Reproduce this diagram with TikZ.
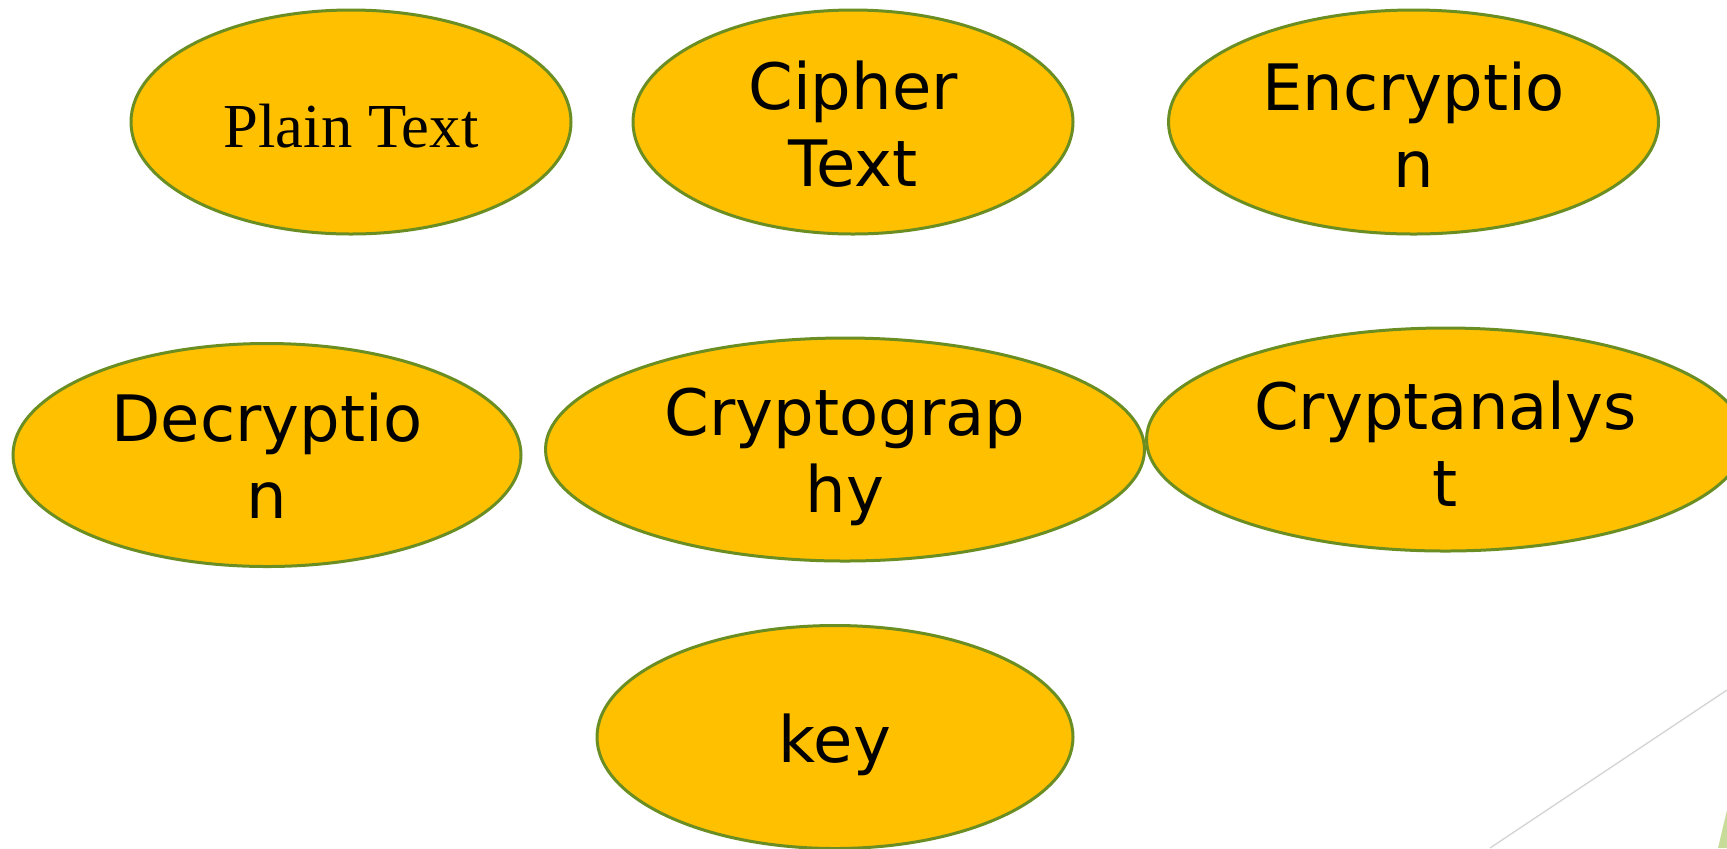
\documentclass[tikz,border=0pt]{standalone}
\usepackage{fontspec}
\setmainfont{DejaVu Sans}
\newfontfamily\serifface{Liberation Serif}
\usetikzlibrary{shapes.geometric}
\definecolor{bubblefill}{HTML}{FFC000}
\definecolor{bubbleline}{HTML}{6B8E23}
\definecolor{guide}{HTML}{D6D6D6}
\definecolor{leaf}{HTML}{C8DC9A}
\tikzset{
  bubble/.style={ellipse, draw=bubbleline, line width=1.5pt, fill=bubblefill,
    inner sep=0pt},
  caption/.style={inner sep=0pt, align=center, text=black,
    font=\fontsize{32}{38.5}\selectfont},
}
\begin{document}
\begin{tikzpicture}[x=0.5pt,y=-0.5pt]
  \useasboundingbox (0,0) rectangle (1727,848);
  \clip (0,0) rectangle (1727,848);
  \fill[white] (0,0) rectangle (1727,848);

  % corner decoration
  \coordinate (g1) at (1490,848);
  \coordinate (g2) at (1727,690);
  \draw[guide, line width=0.7pt] (g1) -- (g2);
  \fill[leaf] (1718,848) -- (1727,810) -- (1727,848) -- cycle;

  % ellipses
  \node[bubble, minimum width=220pt,   minimum height=112pt]   (plain)   at (351,122)     {};
  \node[bubble, minimum width=220pt,   minimum height=112pt]   (cipher)  at (853,122)     {};
  \node[bubble, minimum width=245pt,   minimum height=112pt]   (enc)     at (1413.5,122)  {};
  \node[bubble, minimum width=254pt,   minimum height=111.5pt] (dec)     at (267,455)     {};
  \node[bubble, minimum width=299.5pt, minimum height=111.5pt] (crypto)  at (845,449.5)   {};
  \node[bubble, minimum width=299pt,   minimum height=111.5pt] (analyst) at (1445.5,439.5) {};
  \node[bubble, minimum width=238pt,   minimum height=111.5pt] (key)     at (835,737)     {};

  % labels
  \node[caption, font=\serifface\fontsize{31.3}{36}\selectfont] (plain-t)
       at ([yshift=-2.2pt]plain.center) {Plain Text};
  \node[caption] (cipher-t)  at ([yshift=-1.1pt]cipher.center)  {Cipher\\Text};
  \node[caption] (enc-t)     at ([yshift=-1.1pt]enc.center)     {Encryptio\\n};
  \node[caption] (dec-t)     at ([yshift=-0.5pt]dec.center)     {Decryptio\\n};
  \node[caption] (crypto-t)  at ([yshift=-3.8pt]crypto.center)  {Cryptograp\\hy};
  \node[caption] (analyst-t) at ([yshift=-2.2pt]analyst.center) {Cryptanalys\\t};
  \node[caption] (key-t)     at ([yshift=-3.8pt]key.center)     {key};
\end{tikzpicture}
\end{document}
